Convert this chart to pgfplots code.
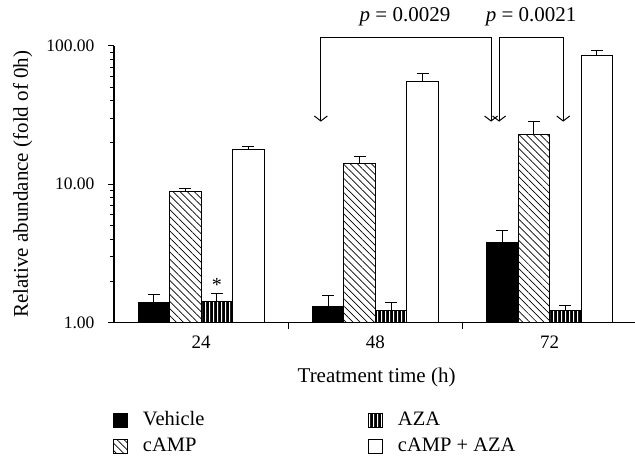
\documentclass[border=0pt]{standalone}
\usepackage{pgfplots}
\usepackage{pgfplotstable}
\pgfplotsset{compat=1.18}
\usepackage{fontspec}
\setmainfont{Liberation Serif}
\usetikzlibrary{patterns,patterns.meta,arrows.meta}

\pgfdeclarepatternformonly{vstripes}{\pgfpoint{0pt}{0pt}}{\pgfpoint{4pt}{120pt}}{\pgfpoint{4pt}{120pt}}{
  \pgfsetlinewidth{1.1pt}
  \pgfpathmoveto{\pgfpoint{2pt}{-2pt}}
  \pgfpathlineto{\pgfpoint{2pt}{122pt}}
  \pgfusepath{stroke}
}

\pgfplotstableread{
x vehicle vehe camp campe aza azae both bothe
0 1.40 0.20 8.83 0.45 1.43 0.19 17.7 1.0
1 1.32 0.25 14.2 1.7 1.215 0.195 55.0 8.5
2 3.80 0.87 23.0 5.3 1.235 0.105 84.7 7.8
}\datatable

\begin{document}
\begin{tikzpicture}
\useasboundingbox (0,0) rectangle (635pt,-457pt);
\begin{axis}[
  at={(114pt,-322.7pt)}, anchor=south west,
  scale only axis, width=521pt, height=277pt,
  ymode=log, ymin=1, ymax=100, xmin=-0.5, xmax=2.49,
  clip=false,
  axis lines=left, axis line style={-, line width=1.1pt},
  ybar=0pt, bar width=31.5pt,
  xtick={0.5,1.5}, xticklabels={},
  extra x ticks={0,1,2}, extra x tick labels={24,48,72},
  extra x tick style={major tick length=0pt},
  ytick={1,10,100}, yticklabels={1.00,10.00,100.00},
  minor ytick={2,3,4,5,6,7,8,9,20,30,40,50,60,70,80,90},
  tick align=outside, major tick length=6pt, minor tick length=4pt,
  tick style={line width=1pt, black},
  /pgf/number format/assume math mode=true,
  xticklabel style={font=\fontsize{19}{22}\selectfont, yshift=-10pt},
  yticklabel style={font=\fontsize{17.5}{20}\selectfont, xshift=-10pt},
  label style={font=\fontsize{21}{25}\selectfont},
  xlabel={Treatment time (h)},
  ylabel={Relative abundance (fold of 0h)},
  xlabel style={at={(axis description cs:0.504,-0.199)}, anchor=center},
  ylabel style={at={(axis description cs:-0.175,0.5)}, anchor=center, rotate=0},
  legend style={at={(axis description cs:-0.002,-0.325)}, anchor=north west,
    draw=none, fill=none, inner sep=0pt, outer sep=0pt,
    column sep=0pt, row sep=9pt, font=\fontsize{20.5}{24}\selectfont,
    nodes={inner sep=0pt, text height=13pt, text depth=4pt, anchor=base west}},
  legend columns=2, transpose legend,
  sqleg/.style={legend image code/.code={\draw[##1,line width=1pt] (0pt,-1.5pt) rectangle (14pt,12.5pt); \path (29pt,0pt);}},
  error bars/error bar style={line width=1pt, black},
  error bars/error mark options={rotate=90, line width=1pt, mark size=6pt, black},
]
\addplot[sqleg, fill=black, draw=black, line width=1pt,
  error bars/.cd, y dir=plus, y explicit]
  table[x=x, y=vehicle, y error=vehe]{\datatable};
\addlegendentry{\makebox[225pt][l]{Vehicle}}
\addplot[sqleg, fill=white, draw=black, line width=1pt,
  pattern={Lines[angle=-45,distance=5pt,line width=0.7pt]},
  error bars/.cd, y dir=plus, y explicit]
  table[x=x, y=camp, y error=campe]{\datatable};
\addlegendentry{\makebox[225pt][l]{cAMP}}
\addplot[sqleg, fill=black, draw=black, line width=1pt,
  postaction={pattern=vstripes, pattern color=white},
  error bars/.cd, y dir=plus, y explicit]
  table[x=x, y=aza, y error=azae]{\datatable};
\addlegendentry{AZA}
\addplot[sqleg, fill=white, draw=black, line width=1pt,
  error bars/.cd, y dir=plus, y explicit]
  table[x=x, y=both, y error=bothe]{\datatable};
\addlegendentry{cAMP + AZA}

\node[font=\fontsize{20}{24}\selectfont, inner sep=0pt] at (axis cs:0.09,1.88) {*};
\draw[line width=1pt, {Straight Barb[length=5pt,width=13pt]}-{Straight Barb[length=5pt,width=13pt]}]
  (axis cs:0.687,28.3) -- (axis cs:0.687,115) -- (axis cs:1.664,115) -- (axis cs:1.664,28.3);
\draw[line width=1pt, {Straight Barb[length=5pt,width=13pt]}-{Straight Barb[length=5pt,width=13pt]}]
  (axis cs:1.710,28.3) -- (axis cs:1.710,115) -- (axis cs:2.078,115) -- (axis cs:2.078,28.3);
\node[font=\fontsize{21}{25}\selectfont] at (axis cs:1.170,161) {\textit{p} = 0.0029};
\node[font=\fontsize{21}{25}\selectfont] at (axis cs:1.894,161) {\textit{p} = 0.0021};
\end{axis}
\end{tikzpicture}
\end{document}
